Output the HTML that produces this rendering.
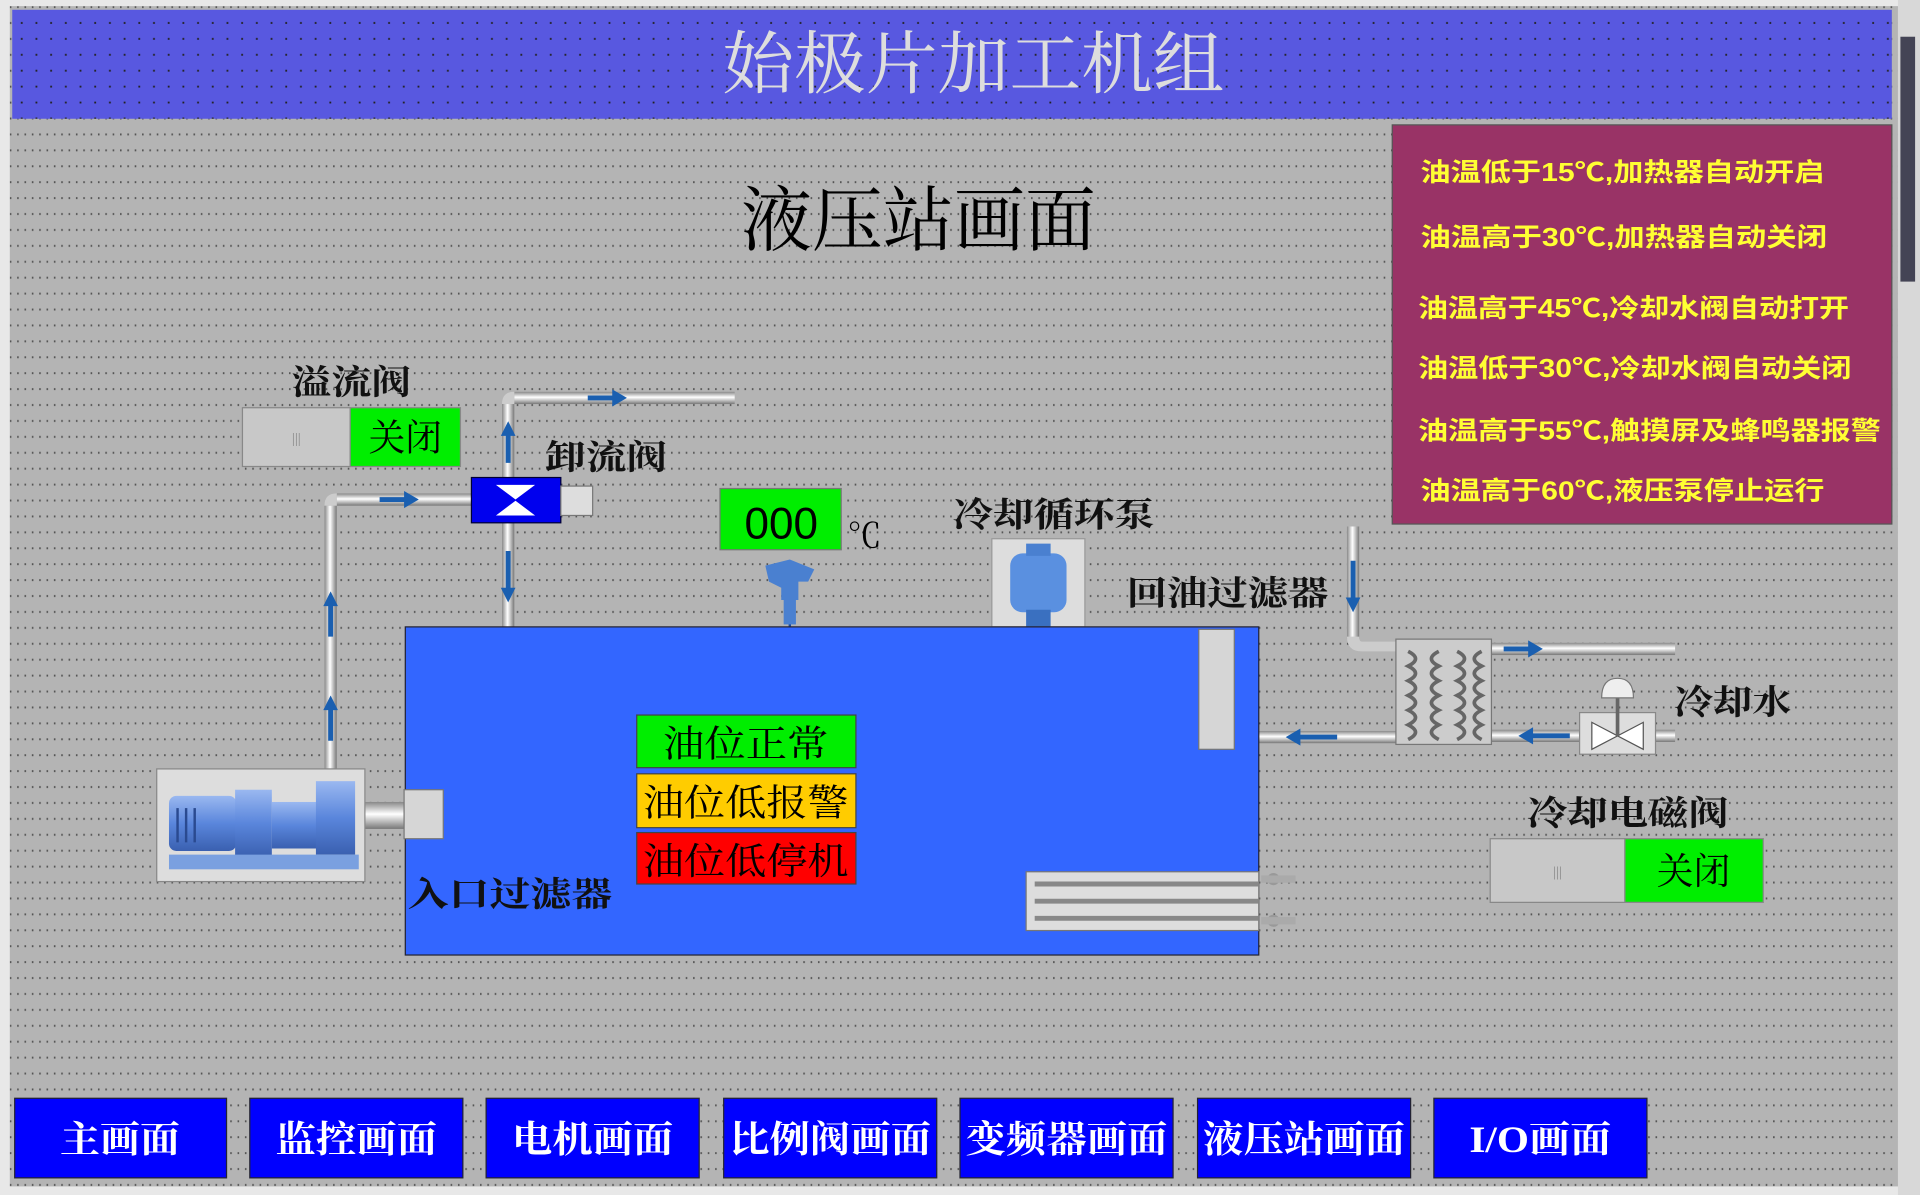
<!DOCTYPE html>
<html><head><meta charset="utf-8"><style>
html,body{margin:0;padding:0;width:1920px;height:1195px;overflow:hidden;background:#e8e8e8}
svg{display:block}
.s{font-family:"Liberation Serif","Noto Serif CJK SC",serif}
.b{font-family:"Liberation Sans","Noto Sans CJK SC",sans-serif;font-weight:bold}
</style></head><body>
<svg width="1920" height="1195" viewBox="0 0 1568 976" preserveAspectRatio="none" xmlns="http://www.w3.org/2000/svg">
<defs>
<pattern id="dots" width="6" height="13" patternUnits="userSpaceOnUse"><rect width="6" height="13" fill="#b4b4b4"/><rect x="2" y="5" width="1.3" height="1.6" fill="#555"/></pattern>
<pattern id="hd" width="12" height="13" patternUnits="userSpaceOnUse"><rect width="12" height="13" fill="#5858e0"/><rect x="5" y="5" width="1.5" height="1.5" fill="#222"/></pattern>
<linearGradient id="pv" x1="0" x2="1" y1="0" y2="0"><stop offset="0" stop-color="#888"/><stop offset=".45" stop-color="#fff"/><stop offset="1" stop-color="#777"/></linearGradient>
<linearGradient id="ph" x1="0" x2="0" y1="0" y2="1"><stop offset="0" stop-color="#888"/><stop offset=".45" stop-color="#fff"/><stop offset="1" stop-color="#777"/></linearGradient>
<linearGradient id="pm" x1="0" x2="0" y1="0" y2="1"><stop offset="0" stop-color="#9ab8f0"/><stop offset=".5" stop-color="#5a86dc"/><stop offset="1" stop-color="#3a60b0"/></linearGradient>
</defs>
<rect width="1568" height="976" fill="#e8e8e8"/>
<rect x="8" y="5" width="1542" height="964" fill="url(#dots)"/>
<rect x="1550" y="0" width="18" height="976" fill="#d8d8d8"/>
<rect x="1552" y="30" width="12" height="200" fill="#445"/>
<rect x="10" y="8" width="1535" height="89" fill="url(#hd)"/>
<text x="795" y="72" text-anchor="middle" class="s" font-size="56" fill="#ddd" textLength="410" lengthAdjust="spacingAndGlyphs">始极片加工机组</text>
<text x="750" y="200" text-anchor="middle" class="s" font-size="58" fill="#000" textLength="290" lengthAdjust="spacingAndGlyphs">液压站画面</text>
<!-- info box -->
<rect x="1137" y="102" width="408" height="326" fill="#993366" stroke="#555"/>
<g class="b" font-size="21" fill="#ffff33">
<text x="1160" y="148" textLength="330" lengthAdjust="spacingAndGlyphs">油温低于15℃,加热器自动开启</text>
<text x="1160" y="201" textLength="332" lengthAdjust="spacingAndGlyphs">油温高于30℃,加热器自动关闭</text>
<text x="1158" y="259" textLength="352" lengthAdjust="spacingAndGlyphs">油温高于45℃,冷却水阀自动打开</text>
<text x="1158" y="308" textLength="354" lengthAdjust="spacingAndGlyphs">油温低于30℃,冷却水阀自动关闭</text>
<text x="1158" y="359" textLength="378" lengthAdjust="spacingAndGlyphs">油温高于55℃,触摸屏及蜂鸣器报警</text>
<text x="1160" y="408" textLength="330" lengthAdjust="spacingAndGlyphs">油温高于60℃,液压泵停止运行</text>
</g>
<!-- pipes -->
<g>
<rect x="410" y="330" width="10" height="182" fill="url(#pv)"/>
<rect x="420" y="320" width="180" height="10" fill="url(#ph)"/>
<path d="M410 330 Q410 320 420 320 L420 330 Z" fill="#ccc"/>
<rect x="265" y="413" width="10" height="225" fill="url(#pv)"/>
<rect x="275" y="403" width="110" height="10" fill="url(#ph)"/>
<path d="M265 413 Q265 403 275 403 L275 413 Z" fill="#ccc"/>
<rect x="1100" y="430" width="10" height="92" fill="url(#pv)"/>
<path d="M1100 520 Q1100 532 1112 532 L1140 532 L1140 524 L1112 524 Q1110 524 1110 520 Z" fill="#ccc"/>
<rect x="1218" y="525" width="150" height="10" fill="url(#ph)"/>
<rect x="1008" y="597" width="132" height="10" fill="url(#ph)"/>
<rect x="1218" y="596" width="150" height="10" fill="url(#ph)"/>
<rect x="298" y="655" width="35" height="22" fill="url(#ph)"/>
</g>
<!-- arrows -->
<g fill="#1a5fb0">
<path d="M480 323h20v-5l12 7-12 7v-5h-20z"/>
<path d="M310 406h20v-5l12 7-12 7v-5h-20z"/>
<path d="M1228 528h20v-5l12 7-12 7v-5h-20z"/>
<path d="M1092 600h-30v-5l-12 7 12 7v-5h30z"/>
<path d="M1282 599h-30v-5l-12 7 12 7v-5h30z"/>
<path d="M413 378v-22h-4l6-12 6 12h-4v22z"/>
<path d="M413 450v30h-4l6 12 6-12h-4v-30z"/>
<path d="M268 520v-25h-4l6-12 6 12h-4v25z"/>
<path d="M268 605v-25h-4l6-12 6 12h-4v25z"/>
<path d="M1103 458v30h-4l6 12 6-12h-4v-30z"/>
</g>
<!-- relief valve -->
<rect x="385" y="390" width="73" height="37" fill="#0000ee" stroke="#003"/>
<path d="M405 396 L421 408 L437 396 Z M405 421 L421 409 L437 421 Z" fill="#fff"/>
<rect x="458" y="397" width="26" height="24" fill="#ddd" stroke="#777"/>
<text x="445" y="383" class="s" font-size="28" font-weight="bold" fill="#111" textLength="100" lengthAdjust="spacingAndGlyphs">卸流阀</text>
<!-- overflow valve -->
<text x="238" y="322" class="s" font-size="28" font-weight="bold" fill="#111" textLength="98" lengthAdjust="spacingAndGlyphs">溢流阀</text>
<rect x="198" y="333" width="88" height="48" fill="#c8c8c8" stroke="#888"/>
<text x="242" y="362" text-anchor="middle" font-size="12" fill="#888">|||</text>
<rect x="286" y="333" width="90" height="48" fill="#00ee00" stroke="#888"/>
<text x="331" y="368" text-anchor="middle" class="s" font-size="30" fill="#000">关闭</text>
<!-- temp -->
<rect x="588" y="399" width="99" height="50" fill="#00ee00" stroke="#777"/>
<text x="638" y="440" text-anchor="middle" font-family="Liberation Sans" font-size="36" fill="#000">000</text>
<text x="692" y="447" class="s" font-size="28" fill="#000">℃</text>
<path d="M625 462 l20 -5 l20 8 l-5 10 l-8 0 l0 15 l-14 0 l0 -10 l-10 -5z" fill="#4a80d0"/>
<rect x="640" y="488" width="10" height="22" fill="#4a80d0"/>
<line x1="645" y1="510" x2="645" y2="572" stroke="#1a4aa0" stroke-width="2"/>
<!-- cooling pump -->
<text x="778" y="430" class="s" font-size="28" font-weight="bold" fill="#111" textLength="165" lengthAdjust="spacingAndGlyphs">冷却循环泵</text>
<rect x="810" y="440" width="76" height="72" fill="#ddd" stroke="#999"/>
<rect x="825" y="452" width="46" height="48" rx="10" fill="#5a90e0"/>
<rect x="838" y="444" width="20" height="10" fill="#4a80d0"/>
<rect x="838" y="498" width="20" height="14" fill="#3a70c0"/>
<text x="920" y="494" class="s" font-size="28" font-weight="bold" fill="#111" textLength="165" lengthAdjust="spacingAndGlyphs">回油过滤器</text>
<!-- tank -->
<rect x="331" y="512" width="697" height="268" fill="#3366ff" stroke="#223"/>
<rect x="979" y="514" width="29" height="98" fill="#d6d6d6" stroke="#777"/>
<!-- heater -->
<rect x="838" y="712" width="190" height="48" fill="#ddd" stroke="#777"/>
<g stroke="#888" stroke-width="4"><line x1="845" y1="722" x2="1028" y2="722"/><line x1="845" y1="736" x2="1028" y2="736"/><line x1="845" y1="750" x2="1028" y2="750"/></g>
<circle cx="1040" cy="718" r="5" fill="#999"/><circle cx="1040" cy="752" r="5" fill="#999"/>
<rect x="1030" y="715" width="28" height="6" fill="#aaa"/><rect x="1030" y="749" width="28" height="6" fill="#aaa"/>
<!-- status -->
<rect x="520" y="584" width="179" height="43" fill="#00ee00" stroke="#444"/>
<text x="609" y="618" text-anchor="middle" class="s" font-size="30" fill="#000" textLength="135" lengthAdjust="spacingAndGlyphs">油位正常</text>
<rect x="520" y="632" width="179" height="44" fill="#ffcc00" stroke="#444"/>
<text x="609" y="666" text-anchor="middle" class="s" font-size="30" fill="#000" textLength="168" lengthAdjust="spacingAndGlyphs">油位低报警</text>
<rect x="520" y="680" width="179" height="42" fill="#ff0000" stroke="#444"/>
<text x="609" y="714" text-anchor="middle" class="s" font-size="30" fill="#000" textLength="168" lengthAdjust="spacingAndGlyphs">油位低停机</text>
<!-- pump -->
<rect x="128" y="628" width="170" height="92" fill="#ddd" stroke="#888"/>
<rect x="138" y="650" width="55" height="45" rx="6" fill="url(#pm)"/>
<rect x="192" y="645" width="30" height="55" fill="url(#pm)"/>
<rect x="222" y="655" width="38" height="38" fill="url(#pm)"/>
<rect x="258" y="638" width="32" height="60" fill="url(#pm)"/>
<rect x="138" y="698" width="155" height="12" fill="#7aa0e0"/>
<g stroke="#2a4a90" stroke-width="2"><line x1="145" y1="660" x2="145" y2="688"/><line x1="152" y1="660" x2="152" y2="688"/><line x1="159" y1="660" x2="159" y2="688"/></g>
<rect x="330" y="645" width="32" height="40" fill="#d6d6d6" stroke="#777"/>
<text x="333" y="740" class="s" font-size="28" font-weight="bold" fill="#111" textLength="167" lengthAdjust="spacingAndGlyphs">入口过滤器</text>
<!-- heat exchanger -->
<rect x="1140" y="522" width="78" height="86" fill="#ccc" stroke="#777"/>
<g fill="none" stroke="#666" stroke-width="3">
<path d="M1150 532 q12 6 0 12 q12 6 0 12 q12 6 0 12 q12 6 0 12 q12 6 0 12 q12 6 0 12"/>
<path d="M1190 532 q12 6 0 12 q12 6 0 12 q12 6 0 12 q12 6 0 12 q12 6 0 12 q12 6 0 12"/>
<path d="M1175 532 q-12 6 0 12 q-12 6 0 12 q-12 6 0 12 q-12 6 0 12 q-12 6 0 12 q-12 6 0 12"/>
<path d="M1210 532 q-12 6 0 12 q-12 6 0 12 q-12 6 0 12 q-12 6 0 12 q-12 6 0 12 q-12 6 0 12"/>
</g>
<!-- water valve -->
<rect x="1290" y="582" width="62" height="34" fill="#ddd" stroke="#888"/>
<path d="M1300 590 L1321 601 L1300 612 Z M1342 590 L1321 601 L1342 612 Z" fill="#fff" stroke="#555"/>
<line x1="1321" y1="601" x2="1321" y2="568" stroke="#666" stroke-width="3"/>
<path d="M1308 570 Q1308 554 1321 554 Q1334 554 1334 570 Z" fill="#eee" stroke="#777"/>
<text x="1367" y="583" class="s" font-size="28" font-weight="bold" fill="#111" textLength="96" lengthAdjust="spacingAndGlyphs">冷却水</text>
<text x="1247" y="674" class="s" font-size="28" font-weight="bold" fill="#111" textLength="165" lengthAdjust="spacingAndGlyphs">冷却电磁阀</text>
<rect x="1217" y="685" width="110" height="52" fill="#c8c8c8" stroke="#888"/>
<text x="1272" y="716" text-anchor="middle" font-size="12" fill="#888">|||</text>
<rect x="1327" y="685" width="113" height="52" fill="#00ee00" stroke="#888"/>
<text x="1383" y="722" text-anchor="middle" class="s" font-size="30" fill="#000">关闭</text>
<!-- buttons -->
<g class="s" font-size="30" fill="#fff" font-weight="bold" text-anchor="middle">
<rect x="12" y="897" width="173" height="65" fill="#0000ff" stroke="#223"/><text x="98" y="941" textLength="98" lengthAdjust="spacingAndGlyphs">主画面</text>
<rect x="204" y="897" width="174" height="65" fill="#0000ff" stroke="#223"/><text x="291" y="941" textLength="132" lengthAdjust="spacingAndGlyphs">监控画面</text>
<rect x="397" y="897" width="174" height="65" fill="#0000ff" stroke="#223"/><text x="484" y="941" textLength="132" lengthAdjust="spacingAndGlyphs">电机画面</text>
<rect x="591" y="897" width="174" height="65" fill="#0000ff" stroke="#223"/><text x="678" y="941" textLength="165" lengthAdjust="spacingAndGlyphs">比例阀画面</text>
<rect x="784" y="897" width="174" height="65" fill="#0000ff" stroke="#223"/><text x="871" y="941" textLength="165" lengthAdjust="spacingAndGlyphs">变频器画面</text>
<rect x="978" y="897" width="174" height="65" fill="#0000ff" stroke="#223"/><text x="1065" y="941" textLength="165" lengthAdjust="spacingAndGlyphs">液压站画面</text>
<rect x="1171" y="897" width="174" height="65" fill="#0000ff" stroke="#223"/><text x="1258" y="941" textLength="116" lengthAdjust="spacingAndGlyphs">I/O画面</text>
</g>
</svg>
</body></html>
